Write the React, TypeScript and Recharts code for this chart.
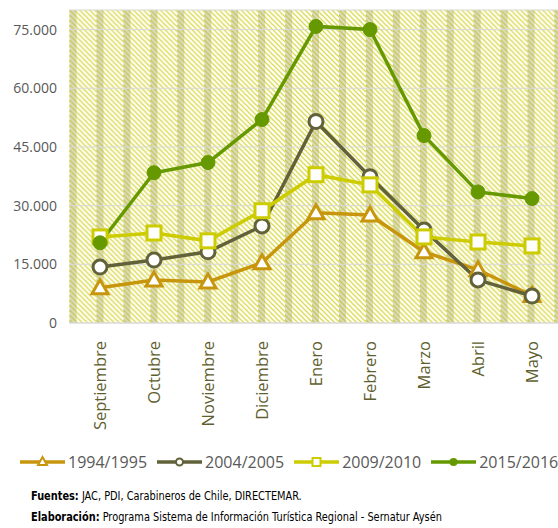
import React from "react";
import { LineChart, Line, XAxis, YAxis, CartesianGrid } from "recharts";

const months = [
  "Septiembre",
  "Octubre",
  "Noviembre",
  "Diciembre",
  "Enero",
  "Febrero",
  "Marzo",
  "Abril",
  "Mayo",
];

const s1994 = [9000, 11000, 10500, 15400, 28200, 27600, 18200, 13600, 7000];
const s2004 = [14300, 16100, 18200, 24800, 51500, 37400, 23800, 11000, 6900];
const s2009 = [22000, 23000, 21000, 28700, 37900, 35300, 22000, 20700, 19700];
const s2015 = [20500, 38400, 41000, 52000, 75800, 75000, 47900, 33500, 31800];

const yTicks = [0, 15000, 30000, 45000, 60000, 75000];

const data = months.map((m, i) => ({
  month: m,
  a: s1994[i],
  b: s2004[i],
  c: s2009[i],
  d: s2015[i],
}));

const C_ORANGE = "#C8960C";
const C_OLIVE = "#62623A";
const C_YELLOW = "#CCCC00";
const C_GREEN = "#669900";

const fmt = (v: number) => (v === 0 ? "0" : v.toLocaleString("de-DE"));

const MonthTick = ({ x, y, payload }: any) => (
  <text
    transform={`translate(${x},${y + 10}) rotate(-90)`}
    textAnchor="end"
    dy="0.35em"
    fill="#5E5E2E"
    fontSize={16.5}
    fontFamily="Open Sans"
  >
    {payload.value}
  </text>
);

const Triangle = ({ cx, cy, index }: any) => (
  <path
    key={index}
    d={`M${cx},${cy - 8} L${cx + 8},${cy + 6} L${cx - 8},${cy + 6} Z`}
    fill="#fff"
    stroke={C_ORANGE}
    strokeWidth={3}
  />
);

const Square = ({ cx, cy, index }: any) => (
  <rect
    key={index}
    x={cx - 7}
    y={cy - 7}
    width={14}
    height={14}
    fill="#fff"
    stroke={C_YELLOW}
    strokeWidth={3}
  />
);

const legendItems = [
  { label: "1994/1995", color: C_ORANGE, kind: "tri" },
  { label: "2004/2005", color: C_OLIVE, kind: "circ" },
  { label: "2009/2010", color: C_YELLOW, kind: "sq" },
  { label: "2015/2016", color: C_GREEN, kind: "dot" },
];

const LegendIcon = ({ color, kind }: { color: string; kind: string }) => (
  <svg width={45} height={14} style={{ display: "block" }}>
    <line x1={0} y1={7} x2={45} y2={7} stroke={color} strokeWidth={3.5} />
    {kind === "tri" && (
      <path d="M22.5,2 L27,10 L18,10 Z" fill="#fff" stroke={color} strokeWidth={2} />
    )}
    {kind === "circ" && <circle cx={22.5} cy={7} r={3.5} fill="#fff" stroke={color} strokeWidth={2} />}
    {kind === "sq" && <rect x={18.5} y={3} width={8} height={8} fill="#fff" stroke={color} strokeWidth={2} />}
    {kind === "dot" && <circle cx={22.5} cy={7} r={4} fill={color} />}
  </svg>
);

export default function App() {
  return (
    <div
      style={{
        position: "absolute",
        left: 0,
        top: 0,
        width: 558,
        height: 528,
        background: "#fff",
        fontFamily: "Open Sans",
      }}
    >
      <LineChart
        width={558}
        height={440}
        data={data}
        margin={{ top: 10, right: 0, left: 0, bottom: 0 }}
      >
        <defs>
          <pattern id="hatch" width="5" height="5" patternUnits="userSpaceOnUse">
            <rect width="5" height="5" fill="#FEFEF6" />
            <path d="M-1,-1 L6,6 M-1,4 L1,6 M4,-1 L6,1" stroke="#D6D640" strokeWidth={1.2} />
          </pattern>
          <pattern id="bands" x="96.5" width="26.94" height="20" patternUnits="userSpaceOnUse">
            <rect width="26.94" height="20" fill="url(#hatch)" />
            <rect width="7" height="20" fill="#A8A860" opacity={0.4} />
          </pattern>
        </defs>
        <CartesianGrid
          vertical={false}
          stroke="#D9D9D9"
          strokeWidth={1}
          fill="url(#bands)"
          fillOpacity={1}
        />
        <XAxis
          dataKey="month"
          interval={0}
          height={117}
          padding={{ left: 31, right: 26 }}
          axisLine={{ stroke: "#D9D9D9" }}
          tickLine={false}
          tick={<MonthTick />}
        />
        <YAxis
          width={69}
          domain={[0, 80000]}
          ticks={yTicks}
          tickFormatter={fmt}
          axisLine={false}
          tickLine={false}
          tickMargin={6}
          tick={{ fill: "#595959", fontSize: 14, fontFamily: "Open Sans" }}
        />
        <Line
          dataKey="a"
          stroke={C_ORANGE}
          strokeWidth={3.5}
          dot={<Triangle />}
          isAnimationActive={false}
        />
        <Line
          dataKey="b"
          stroke={C_OLIVE}
          strokeWidth={3.5}
          dot={{ r: 7, fill: "#fff", stroke: C_OLIVE, strokeWidth: 3 }}
          isAnimationActive={false}
        />
        <Line
          dataKey="c"
          stroke={C_YELLOW}
          strokeWidth={3.5}
          dot={<Square />}
          isAnimationActive={false}
        />
        <Line
          dataKey="d"
          stroke={C_GREEN}
          strokeWidth={3.5}
          dot={{ r: 7, fill: C_GREEN, stroke: C_GREEN, strokeWidth: 1 }}
          isAnimationActive={false}
        />
      </LineChart>
      <div
        style={{
          position: "absolute",
          top: 451,
          left: 20,
          display: "flex",
          alignItems: "center",
          fontSize: 16,
          color: "#595959",
          whiteSpace: "nowrap",
        }}
      >
        {legendItems.map((it) => (
          <div key={it.label} style={{ display: "flex", alignItems: "center", marginRight: 10 }}>
            <LegendIcon color={it.color} kind={it.kind} />
            <span style={{ marginLeft: 3 }}>{it.label}</span>
          </div>
        ))}
      </div>
      <div
        style={{
          position: "absolute",
          left: 31,
          top: 485,
          fontFamily: "'Liberation Sans Narrow', 'DejaVu Sans Condensed', sans-serif",
          fontSize: 12.5,
          color: "#000",
          lineHeight: "21px",
          transform: "scaleX(0.87)",
          transformOrigin: "left top",
          whiteSpace: "nowrap",
        }}
      >
        <div>
          <b>Fuentes:</b> JAC, PDI, Carabineros de Chile, DIRECTEMAR.
        </div>
        <div>
          <b>Elaboración:</b> Programa Sistema de Información Turística Regional - Sernatur Aysén
        </div>
      </div>
    </div>
  );
}
